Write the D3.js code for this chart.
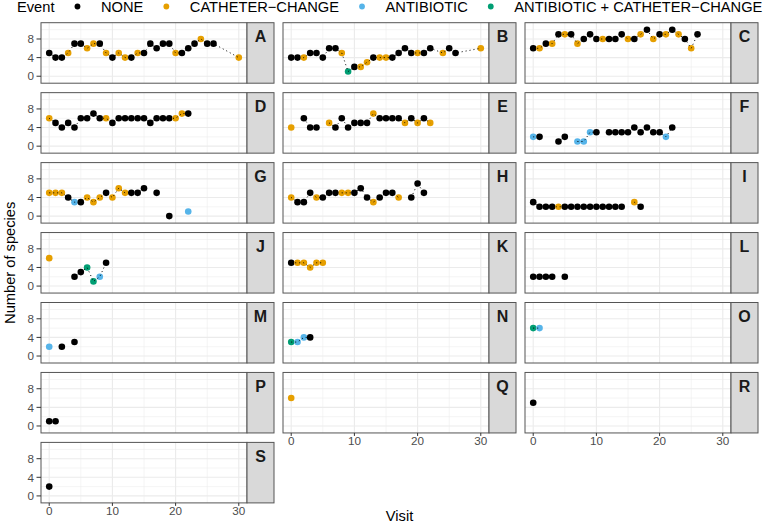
<!DOCTYPE html>
<html>
<head>
<meta charset="utf-8">
<script src="https://cdn.jsdelivr.net/npm/d3@7"></script>
<style>
  body { margin: 0; background: #fff; }
  text { font-family: "Liberation Sans", Arial, sans-serif; }
</style>
</head>
<body>
<svg id="chart" width="766" height="523"></svg>
<script>
// facet labels, one per patient
const panelIds = ["A","B","C","D","E","F","G","H","I","J","K","L","M","N","O","P","Q","R","S"];

const eventNames = ["NONE", "CATHETER\u2212CHANGE", "ANTIBIOTIC", "ANTIBIOTIC + CATHETER\u2212CHANGE"];
const eventColors = ["#000000", "#E69F00", "#56B4E9", "#009E73"];

// visit numbers per panel (null count = missing sample, breaks the dotted path)
const visits = [
  [0,1,2,3,4,5,6,7,8,9,10,11,12,13,14,15,16,17,18,19,20,21,22,23,24,25,26,30],
  [0,1,2,3,4,5,6,7,8,9,10,11,12,13,14,15,16,17,18,19,20,21,22,24,25,26,30],
  [0,1,2,3,4,5,6,7,8,9,10,11,12,13,14,15,16,17,18,19,20,21,22,23,24,25,26],
  [0,1,2,3,4,5,6,7,8,9,10,11,12,13,14,15,16,17,18,19,20,21,22],
  [0,1,2,3,4,5,6,7,8,9,10,11,12,13,14,15,16,17,18,19,20,21,22],
  [0,1,2,3,4,5,6,7,8,9,10,11,12,13,14,15,16,17,18,19,20,21,22],
  [0,1,2,3,4,5,6,7,8,9,10,11,12,13,14,15,16,17,18,19,20,21,22],
  [0,1,2,3,4,5,6,7,8,9,10,11,12,13,14,15,16,17,18,19,20,21],
  [0,1,2,3,4,5,6,7,8,9,10,11,12,13,14,15,16,17],
  [0,1,2,3,4,5,6,7,8,9],
  [0,1,2,3,4,5],
  [0,1,2,3,4,5],
  [0,1,2,3,4],
  [0,1,2,3],
  [0,1],
  [0,1],
  [0],
  [0],
  [0]
];

const speciesCounts = [
  [5,4,4,5,7,7,6,7,7,5,4,5,4,4,5,5,7,6,7,7,5,5,6,7,8,7,7,4],
  [4,4,4,5,5,4,6,6,5,1,2,2,3,4,4,4,4,5,6,5,5,5,6,5,6,5,6],
  [6,6,7,7,9,9,9,7,8,9,8,8,8,8,9,8,8,9,10,8,9,9,10,9,8,6,9],
  [6,5,4,5,4,6,6,7,6,6,5,6,6,6,6,6,5,6,6,6,6,7,7],
  [4,null,6,4,4,null,5,4,6,4,5,5,5,7,6,6,6,6,5,6,5,6,5],
  [2,2,null,null,1,2,null,1,1,3,3,null,3,3,3,3,4,3,4,3,3,2,4],
  [5,5,5,4,3,3,4,3,4,5,4,6,5,5,5,6,null,5,null,0,null,null,1],
  [4,3,3,5,4,4,5,5,5,5,5,6,4,3,4,5,5,4,null,4,7,5],
  [3,2,2,2,2,2,2,2,2,2,2,2,2,2,2,null,3,2],
  [6,null,null,null,2,3,4,1,2,5],
  [5,5,5,4,5,5],
  [2,2,2,2,null,2],
  [2,null,2,null,3],
  [3,3,4,4],
  [6,6],
  [1,1],
  [6],
  [5],
  [2]
];

// index into eventNames
const eventCodes = [
  [0,0,0,1,0,0,1,1,0,1,0,1,1,0,1,0,0,0,0,0,1,0,0,0,1,0,0,1],
  [0,0,1,0,0,0,0,0,1,3,0,1,1,0,1,1,0,0,0,0,1,0,0,1,0,0,1],
  [0,1,0,1,0,1,0,1,0,0,0,1,0,0,0,1,0,1,0,1,0,1,0,1,0,1,0],
  [1,0,0,0,0,0,0,0,0,1,0,0,0,0,0,0,0,0,0,0,1,1,0],
  [1,null,0,0,0,null,1,0,0,0,0,0,0,1,0,0,0,0,1,0,1,0,1],
  [2,0,null,null,0,0,null,2,2,2,0,null,0,0,0,0,0,0,0,0,0,2,0],
  [1,1,1,0,2,0,1,1,1,0,1,1,1,0,0,0,null,0,null,0,null,null,2],
  [1,0,0,0,1,0,0,0,1,1,0,0,0,1,0,0,0,1,null,0,0,0],
  [0,0,0,0,1,0,0,0,0,0,0,0,0,0,0,null,1,0],
  [1,null,null,null,0,0,3,3,2,0],
  [0,1,1,1,1,1],
  [0,0,0,0,null,0],
  [2,null,0,null,0],
  [3,2,2,0],
  [3,2],
  [0,0],
  [1],
  [0],
  [0]
];

const xTicks = [0, 10, 20, 30];
const xMinor = [5, 15, 25];
const yTicks = [0, 4, 8];
const yMinor = [2, 6, 10];

const svg = d3.select("#chart");

const ncol = 3;
const panelW = 206, panelH = 60.5, stripW = 27;
const colStep = 242, rowStep = 69.95;
const left0 = 41, top0 = 22.7;
const borderCol = "#555555";

const x = d3.scaleLinear().domain([-1.3, 31.3]).range([0, panelW]);
const y = d3.scaleLinear().domain([-1.5, 11.5]).range([panelH, 0]);

// legend
const legend = svg.append("g").attr("class", "legend");
let lx = 17;
const title = legend.append("text")
  .attr("x", lx).attr("y", 12)
  .style("font-size", "14.67px").attr("fill", "#000")
  .text("Event");
lx += title.node().getComputedTextLength() + 23;
eventNames.forEach((name, k) => {
  legend.append("circle")
    .attr("cx", lx).attr("cy", 6.5).attr("r", 2.9)
    .attr("fill", eventColors[k]);
  const t = legend.append("text")
    .attr("x", lx + 23.5).attr("y", 12)
    .style("font-size", "14.67px").attr("fill", "#000")
    .text(name);
  lx += 23.5 + t.node().getComputedTextLength() + 23;
});

const line = d3.line()
  .defined(d => d.count != null)
  .x(d => x(d.visit))
  .y(d => y(d.count));

panelIds.forEach((id, i) => {
  const col = i % ncol, row = Math.floor(i / ncol);
  const g = svg.append("g")
    .attr("transform", `translate(${left0 + col * colStep},${top0 + row * rowStep})`);

  g.append("rect").attr("width", panelW).attr("height", panelH).attr("fill", "#fff");

  const grid = g.append("g").attr("class", "grid");
  grid.selectAll("line.xminor").data(xMinor).enter().append("line")
    .attr("x1", d => x(d)).attr("x2", d => x(d)).attr("y1", 0).attr("y2", panelH)
    .attr("stroke", "#EBEBEB").attr("stroke-width", 0.55);
  grid.selectAll("line.yminor").data(yMinor).enter().append("line")
    .attr("y1", d => y(d)).attr("y2", d => y(d)).attr("x1", 0).attr("x2", panelW)
    .attr("stroke", "#EBEBEB").attr("stroke-width", 0.55);
  grid.selectAll("line.xmajor").data(xTicks).enter().append("line")
    .attr("x1", d => x(d)).attr("x2", d => x(d)).attr("y1", 0).attr("y2", panelH)
    .attr("stroke", "#EBEBEB").attr("stroke-width", 1.1);
  grid.selectAll("line.ymajor").data(yTicks).enter().append("line")
    .attr("y1", d => y(d)).attr("y2", d => y(d)).attr("x1", 0).attr("x2", panelW)
    .attr("stroke", "#EBEBEB").attr("stroke-width", 1.1);

  const rows = visits[i].map((v, j) => ({
    visit: v, count: speciesCounts[i][j], event: eventCodes[i][j]
  }));

  g.append("g").attr("class", "points")
    .selectAll("circle")
    .data(rows.filter(d => d.count != null))
    .enter().append("circle")
    .attr("cx", d => x(d.visit))
    .attr("cy", d => y(d.count))
    .attr("r", 3.3)
    .attr("fill", d => eventColors[d.event]);

  g.append("path")
    .datum(rows)
    .attr("d", line)
    .attr("fill", "none")
    .attr("stroke", "#000")
    .attr("stroke-width", 1)
    .attr("stroke-dasharray", "1,3");

  g.append("rect").attr("width", panelW).attr("height", panelH)
    .attr("fill", "none").attr("stroke", borderCol).attr("stroke-width", 1);

  // strip on the right
  g.append("rect")
    .attr("x", panelW).attr("width", stripW).attr("height", panelH)
    .attr("fill", "#D9D9D9").attr("stroke", borderCol).attr("stroke-width", 1);
  g.append("text")
    .attr("x", panelW + stripW / 2).attr("y", 19.5)
    .attr("text-anchor", "middle")
    .style("font-size", "16px").style("font-weight", "bold")
    .attr("fill", "#1A1A1A")
    .text(id);

  // y axis on the first column
  if (col === 0) {
    const ya = g.append("g");
    ya.selectAll("line").data(yTicks).enter().append("line")
      .attr("x1", -4.5).attr("x2", 0)
      .attr("y1", d => y(d)).attr("y2", d => y(d))
      .attr("stroke", "#333").attr("stroke-width", 1);
    ya.selectAll("text").data(yTicks).enter().append("text")
      .attr("x", -7).attr("y", d => y(d)).attr("dy", "0.36em")
      .attr("text-anchor", "end")
      .style("font-size", "11.7px").attr("fill", "#4D4D4D")
      .text(d => d);
  }

  // x axis under the last panel of each column
  if (i + ncol >= panelIds.length) {
    const xa = g.append("g").attr("transform", `translate(0,${panelH})`);
    xa.selectAll("line").data(xTicks).enter().append("line")
      .attr("x1", d => x(d)).attr("x2", d => x(d))
      .attr("y1", 0).attr("y2", 3)
      .attr("stroke", "#333").attr("stroke-width", 1);
    xa.selectAll("text").data(xTicks).enter().append("text")
      .attr("x", d => x(d)).attr("y", 12.5)
      .attr("text-anchor", "middle")
      .style("font-size", "11.7px").attr("fill", "#4D4D4D")
      .text(d => d);
  }
});

svg.append("text")
  .attr("x", (left0 + 2 * colStep + panelW + stripW + left0) / 2).attr("y", 521)
  .attr("text-anchor", "middle")
  .style("font-size", "14.67px").attr("fill", "#000")
  .text("Visit");

svg.append("text")
  .attr("transform", `translate(15,${top0 + (6 * rowStep + panelH) / 2}) rotate(-90)`)
  .attr("text-anchor", "middle")
  .style("font-size", "14.67px").attr("fill", "#000")
  .text("Number of species");
</script>
</body>
</html>
